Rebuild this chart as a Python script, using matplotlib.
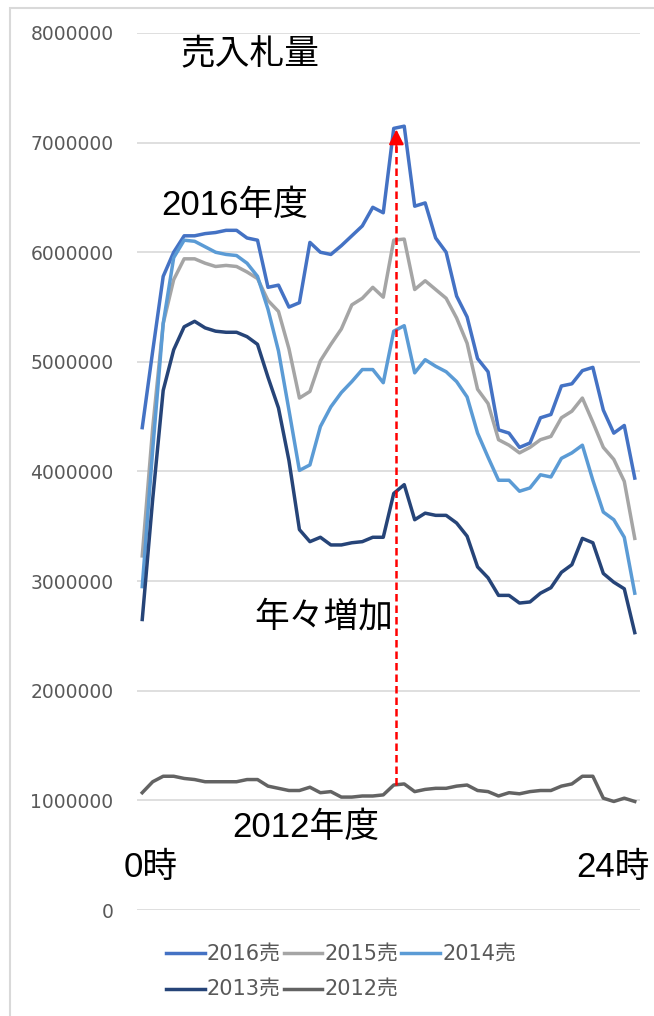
import matplotlib
matplotlib.use("Agg")
import matplotlib.pyplot as plt
from matplotlib.patches import Rectangle

plt.rcParams['font.family'] = ['DejaVu Sans', 'Noto Sans CJK JP']

# ---- data (units: million) ----
slots = list(range(48))  # half-hour slots 0:00 .. 23:30
s2016 = [4.40, 5.10, 5.78, 6.00, 6.15, 6.15, 6.17, 6.18, 6.20, 6.20,
         6.13, 6.11, 5.68, 5.70, 5.50, 5.54, 6.09, 6.00, 5.98, 6.06,
         6.15, 6.24, 6.41, 6.36, 7.13, 7.15, 6.42, 6.45, 6.13, 6.00,
         5.60, 5.41, 5.03, 4.91, 4.38, 4.35, 4.22, 4.26, 4.49, 4.52,
         4.78, 4.80, 4.92, 4.95, 4.56, 4.35, 4.42, 3.94]
s2015 = [3.23, 4.40, 5.35, 5.75, 5.94, 5.94, 5.90, 5.87, 5.88, 5.87,
         5.82, 5.76, 5.56, 5.46, 5.12, 4.67, 4.73, 5.01, 5.16, 5.30,
         5.52, 5.58, 5.68, 5.59, 6.11, 6.12, 5.66, 5.74, 5.66, 5.58,
         5.40, 5.17, 4.75, 4.62, 4.29, 4.24, 4.17, 4.22, 4.29, 4.32,
         4.49, 4.55, 4.67, 4.45, 4.22, 4.11, 3.91, 3.39]
s2014 = [2.95, 4.20, 5.35, 5.95, 6.11, 6.10, 6.05, 6.00, 5.98, 5.97,
         5.90, 5.78, 5.48, 5.10, 4.56, 4.01, 4.06, 4.41, 4.59, 4.72,
         4.82, 4.93, 4.93, 4.81, 5.28, 5.33, 4.90, 5.02, 4.96, 4.91,
         4.82, 4.68, 4.35, 4.13, 3.92, 3.92, 3.82, 3.85, 3.97, 3.95,
         4.12, 4.17, 4.24, 3.92, 3.63, 3.56, 3.40, 2.89]
s2013 = [2.65, 3.75, 4.74, 5.11, 5.32, 5.37, 5.31, 5.28, 5.27, 5.27,
         5.23, 5.16, 4.86, 4.58, 4.10, 3.47, 3.36, 3.40, 3.33, 3.33,
         3.35, 3.36, 3.40, 3.40, 3.80, 3.88, 3.56, 3.62, 3.60, 3.60,
         3.53, 3.41, 3.13, 3.03, 2.87, 2.87, 2.80, 2.81, 2.89, 2.94,
         3.08, 3.15, 3.39, 3.35, 3.07, 2.99, 2.93, 2.53]
s2012 = [1.07, 1.17, 1.22, 1.22, 1.20, 1.19, 1.17, 1.17, 1.17, 1.17,
         1.19, 1.19, 1.13, 1.11, 1.09, 1.09, 1.12, 1.07, 1.08, 1.03,
         1.03, 1.04, 1.04, 1.05, 1.14, 1.15, 1.08, 1.10, 1.11, 1.11,
         1.13, 1.14, 1.09, 1.08, 1.04, 1.07, 1.06, 1.08, 1.09, 1.09,
         1.13, 1.15, 1.22, 1.22, 1.02, 0.99, 1.02, 0.99]

series_names = ['2016売', '2015売', '2014売', '2013売', '2012売']
series_vals = [s2016, s2015, s2014, s2013, s2012]
series_colors = ['#4472C4', '#A5A5A5', '#5B9BD5', '#264478', '#636363']

yticks = [0, 1000000, 2000000, 3000000, 4000000, 5000000, 6000000, 7000000, 8000000]
ytick_labels = [str(v) for v in yticks]

arrow_x = 24.25
arrow_y0 = 1.14e6
arrow_y1 = 7.12e6

# ---- figure ----
W, H = 654, 1016
fig = plt.figure(figsize=(W / 100, H / 100), dpi=100)
fig.patch.set_facecolor('white')
fig.patches.append(Rectangle((10 / W, -0.01), 1.1, 1 - 8 / H + 0.01,
                             transform=fig.transFigure, fill=False,
                             edgecolor='#D9D9D9', lw=1.5, zorder=0))

ax = fig.add_axes([137 / W, 1 - 910 / H, (640 - 137) / W, (910 - 33) / H])
ax.set_xlim(-0.5, 47.5)
ax.set_ylim(0, 8000000)
for s in ax.spines.values():
    s.set_visible(False)
ax.set_xticks([])
ax.set_yticks(yticks)
ax.set_yticklabels(ytick_labels)
ax.tick_params(axis='y', length=0, pad=17, labelsize=13.5, labelcolor='#595959')
ax.grid(axis='y', color='#D9D9D9', lw=1.2)
ax.set_axisbelow(True)

handles = []
for name, vals, col in zip(series_names, series_vals, series_colors):
    h, = ax.plot(slots, [v * 1e6 for v in vals], color=col, lw=2.5,
                 label=name, solid_joinstyle='round')
    handles.append(h)

# red dashed arrow
ax.plot([arrow_x, arrow_x], [arrow_y0, arrow_y1 - 0.15e6], color='red',
        lw=1.8, ls=(0, (3, 1.6)), zorder=5)
ax.annotate('', xy=(arrow_x, arrow_y1), xytext=(arrow_x, arrow_y1 - 0.2e6),
            arrowprops=dict(arrowstyle='-|>,head_length=0.9,head_width=0.45',
                            color='red', lw=1.5, shrinkA=0, shrinkB=0),
            zorder=6)

# annotations
big = dict(fontsize=25, color='black', ha='center', va='center',
           family=['Liberation Sans', 'Noto Sans CJK JP'])
fig.text(250 / W, 1 - 55 / H, '売入札量', **big)
fig.text(235 / W, 1 - 205 / H, '2016年度', **big)
fig.text(324 / W, 1 - 617 / H, '年々増加', **big)
fig.text(306 / W, 1 - 827 / H, '2012年度', **big)
fig.text(151 / W, 1 - 868 / H, '0時', **big)
fig.text(613 / W, 1 - 868 / H, '24時', **big)

# legend (row-major order)
order = [0, 3, 1, 4, 2]
leg = fig.legend([handles[i] for i in order], [series_names[i] for i in order],
                 ncol=3, loc='center', bbox_to_anchor=(341 / W, 1 - 972 / H),
                 frameon=False, fontsize=15, handlelength=1.85,
                 handletextpad=0.1, columnspacing=0.15, labelspacing=0.75,
                 labelcolor='#595959')

fig.savefig('out.png', dpi=100)
